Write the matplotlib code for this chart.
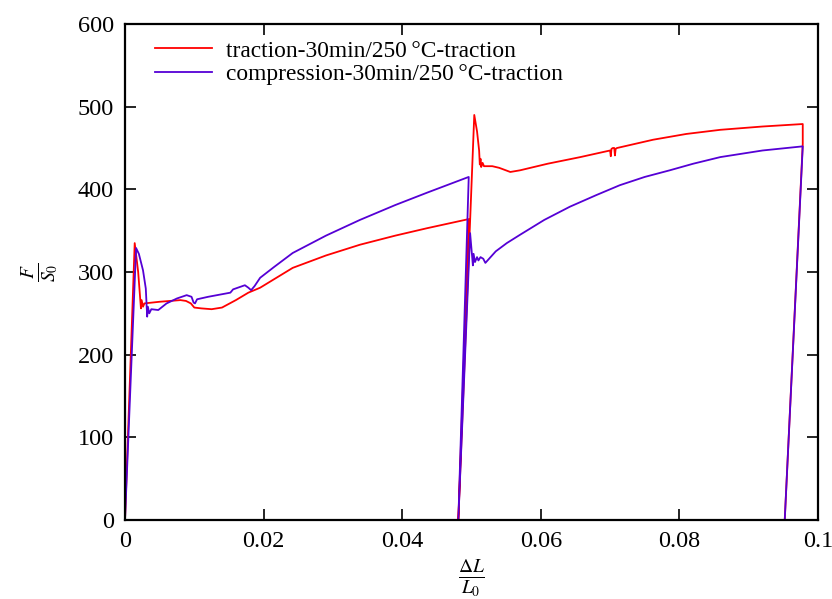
import matplotlib
matplotlib.use("Agg")
import matplotlib.pyplot as plt

# ---- data ----
red_x = [0.0, 0.0014, 0.0019, 0.0023, 0.0024, 0.0026, 0.0028, 0.0050, 0.0080, 0.0088,
         0.0095, 0.0100, 0.0110, 0.0125, 0.0140, 0.0160, 0.0178, 0.0195, 0.0242, 0.0290,
         0.0339, 0.0390, 0.0436, 0.0496, 0.0481, 0.0504, 0.0508, 0.0511, 0.0512, 0.0513,
         0.0514, 0.0516, 0.0518, 0.0530, 0.0540, 0.0556, 0.0570, 0.0610, 0.0657, 0.0700,
         0.0701, 0.0702, 0.0704, 0.0706, 0.0707, 0.0708, 0.0710, 0.0762, 0.0810, 0.0859,
         0.0920, 0.0978, 0.0978, 0.0952]
red_y = [0, 335, 300, 256, 266, 258, 262, 264, 266, 265,
         262, 257, 256, 255, 257, 266, 275, 281, 305, 320,
         333, 344, 353, 364, 0, 490, 470, 447, 430, 437,
         427, 432, 428, 428, 426, 421, 423, 431, 439, 447,
         440, 449, 450, 450, 441, 449, 450, 460, 467, 472,
         476, 479, 455, 0]

blue_x = [0.0, 0.0016, 0.0020, 0.0026, 0.0030, 0.0032, 0.0033, 0.0035, 0.0038, 0.0048,
          0.0060, 0.0075, 0.0089, 0.0096, 0.0099, 0.0101, 0.0104, 0.0120, 0.0152, 0.0156,
          0.0173, 0.0178, 0.0182, 0.0187, 0.0195, 0.0215, 0.0242, 0.0290, 0.0339, 0.0390,
          0.0436, 0.0496, 0.0481, 0.0498, 0.0502, 0.0503, 0.0505, 0.0508, 0.0510, 0.0513,
          0.0517, 0.0520, 0.0535, 0.0551, 0.0570, 0.0605, 0.0642, 0.0680, 0.0714, 0.0750,
          0.0786, 0.0820, 0.0859, 0.0920, 0.0978, 0.0952]
blue_y = [0, 329, 322, 302, 280, 246, 258, 250, 255, 254,
          262, 268, 272, 270, 263, 262, 267, 270, 275, 279,
          284, 281, 278, 283, 293, 306, 323, 344, 363, 381,
          396, 415, 0, 347, 308, 322, 312, 318, 314, 318,
          316, 311, 325, 335, 345, 363, 379, 393, 405, 415,
          423, 431, 439, 447, 452, 0]

red_label = "traction-30min/250\u2009°C-traction"
blue_label = "compression-30min/250\u2009°C-traction"
x_ticks = [0, 0.02, 0.04, 0.06, 0.08, 0.1]
x_tick_labels = ["0", "0.02", "0.04", "0.06", "0.08", "0.1"]
y_ticks = [0, 100, 200, 300, 400, 500, 600]

plt.rcParams['font.family'] = ['Liberation Serif', 'DejaVu Serif']
plt.rcParams['mathtext.fontset'] = 'stix'
plt.rcParams['font.size'] = 17.5

fig = plt.figure(figsize=(8.32, 5.99), dpi=100)
ax = fig.add_axes([125/832, 1 - 520/599, (818-125)/832, (520-24)/599])

ax.plot(red_x, red_y, color='#ff0000', lw=1.3, label=red_label)
ax.plot(blue_x, blue_y, color='#5500d5', lw=1.3, label=blue_label)

ax.set_xlim(0, 0.1)
ax.set_ylim(0, 600)
ax.set_xticks(x_ticks)
ax.set_xticklabels(x_tick_labels)
ax.set_yticks(y_ticks)
ax.tick_params(direction='in', length=8, width=1.2, top=True, right=True, pad=8)
for s in ax.spines.values():
    s.set_linewidth(1.6)

ax.set_xlabel(r"$\frac{\Delta L}{L_0}$", fontsize=20, labelpad=4)
ax.set_ylabel(r"$\frac{F}{S_0}$", fontsize=20, labelpad=12)

ax.legend(loc='upper left', frameon=False, handlelength=2.45, handletextpad=0.58,
          borderaxespad=0.3, labelspacing=0.1, bbox_to_anchor=(0.02, 1.0),
          prop={'size': 16.8})

fig.savefig("out.png", dpi=100)
